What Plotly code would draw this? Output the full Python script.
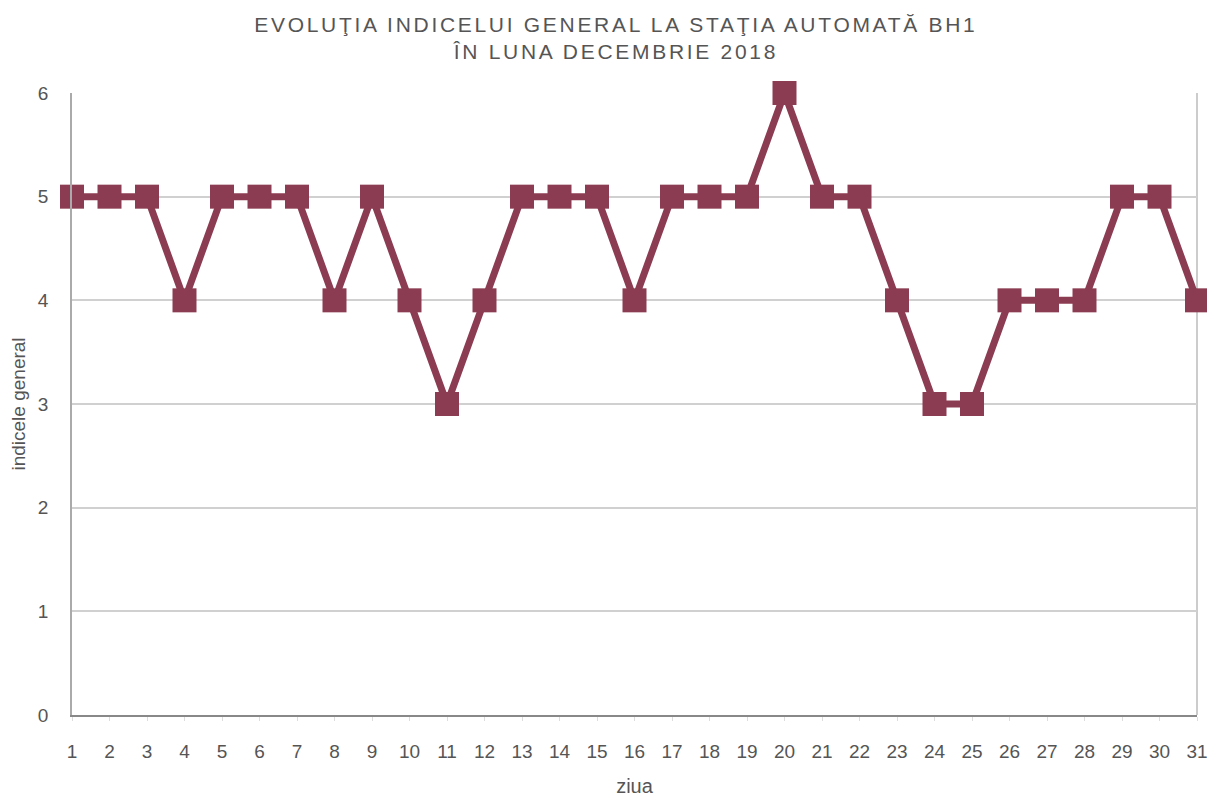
import plotly.graph_objects as go

days = list(range(1, 32))
values = [5, 5, 5, 4, 5, 5, 5, 4, 5, 4, 3, 4, 5, 5, 5, 4, 5, 5, 5, 6, 5, 5, 4, 3, 3, 4, 4, 4, 5, 5, 4]
y_ticks = [0, 1, 2, 3, 4, 5, 6]

color = "#8C3C52"
txt = "#555555"
fig = go.Figure()
fig.add_trace(go.Scatter(
    x=days, y=values, mode="lines+markers",
    line=dict(color=color, width=7),
    marker=dict(symbol="square", size=24, color=color),
    cliponaxis=False, showlegend=False,
))

title_text = ('<span style="letter-spacing:2.7px">EVOLUŢIA INDICELUI GENERAL LA STAŢIA AUTOMATĂ BH1</span><br>'
              '<span style="letter-spacing:2.7px">ÎN LUNA DECEMBRIE 2018</span>')

fig.update_layout(
    width=1199, height=789,
    margin=dict(l=64, r=10, t=85, b=82, autoexpand=False),
    paper_bgcolor="white", plot_bgcolor="white",
    font=dict(family="Liberation Sans, Arial, sans-serif", color=txt),
    title=dict(
        text=title_text,
        x=0.507, xanchor="center", yref="container", y=0.970, yanchor="middle",
        font=dict(size=21, color=txt),
    ),
    xaxis=dict(
        range=[1, 31], tickmode="array", tickvals=days, ticktext=[str(d) for d in days],
        showgrid=False, zeroline=False, automargin=False,
        showline=True, linecolor="#888888", linewidth=2,
        ticks="outside", ticklen=4, tickcolor="#dddddd",
        tickfont=dict(size=19, color=txt), ticklabelstandoff=14,
        ticklabeloverflow="allow",
        title=dict(text="ziua", font=dict(size=20, color=txt), standoff=36),
    ),
    yaxis=dict(
        range=[0, 6], tickmode="array", tickvals=y_ticks,
        showgrid=True, gridcolor="#d0d0d0", gridwidth=1.5, zeroline=False, automargin=False,
        showline=True, linecolor="#aaaaaa", linewidth=1.5,
        tickfont=dict(size=19, color=txt), ticklabelstandoff=18,
        title=dict(text="indicele general", font=dict(size=19, color=txt), standoff=10),
    ),
)
fig.add_shape(type="line", xref="paper", yref="paper", x0=1, x1=1, y0=0, y1=1,
              line=dict(color="#bbbbbb", width=1.5), layer="below")

fig.write_html("out.html")
